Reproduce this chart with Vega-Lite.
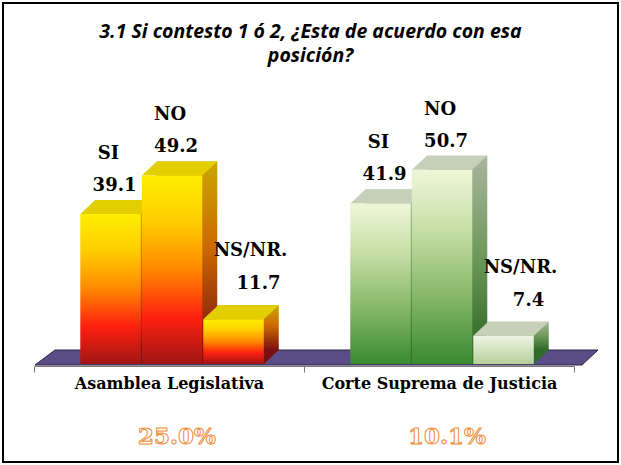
{
  "$schema": "https://vega.github.io/schema/vega-lite/v6.json",
  "width": 615,
  "height": 459,
  "padding": 3,
  "autosize": {"type": "none"},
  "background": "white",
  "config": {"view": {"stroke": "black", "strokeWidth": 2}},
  "title": {
    "text": ["3.1 Si contesto 1 ó 2, ¿Esta de acuerdo con esa", "posición?"],
    "font": "Open Sans", "fontSize": 19.5, "fontStyle": "italic", "fontWeight": "bold",
    "color": "black", "anchor": "middle", "baseline": "top", "offset": -63, "lineHeight": 24
  },
  "datasets": {
    "bars": [
      {"group": "Asamblea Legislativa", "answer": "SI", "value": 39.1},
      {"group": "Asamblea Legislativa", "answer": "NO", "value": 49.2},
      {"group": "Asamblea Legislativa", "answer": "NS/NR.", "value": 11.7},
      {"group": "Corte Suprema de Justicia", "answer": "SI", "value": 41.9},
      {"group": "Corte Suprema de Justicia", "answer": "NO", "value": 50.7},
      {"group": "Corte Suprema de Justicia", "answer": "NS/NR.", "value": 7.4}
    ],
    "pct": [
      {"group": "Asamblea Legislativa", "pct": 0.25},
      {"group": "Corte Suprema de Justicia", "pct": 0.101}
    ]
  },
  "data": {"name": "bars"},
  "resolve": {"scale": {"xOffset": "independent"}},
  "encoding": {
    "x": {
      "field": "group", "type": "nominal", "sort": null,
      "scale": {"range": [31, 571], "paddingInner": 0, "paddingOuter": 0},
      "axis": {
        "orient": "bottom", "offset": -96, "title": null, "labelAngle": 0,
        "labelFont": "DejaVu Serif", "labelFontWeight": "bold", "labelFontSize": 16,
        "labelColor": "black", "labelPadding": 3, "labelLimit": 400,
        "tickBand": "extent", "tickSize": 6, "tickColor": "#777",
        "domainColor": "#777", "domainWidth": 1, "grid": false
      }
    },
    "y": {
      "field": "value", "type": "quantitative",
      "scale": {"domain": [0, 60], "range": [361, 131]},
      "axis": null
    }
  },
  "layer": [
    {
      "transform": [{"filter": "datum.group === 'Asamblea Legislativa' && datum.answer === 'SI'"}],
      "mark": {"type": "point", "shape": "M-134,1L-114,-14L429,-14L413,1Z", "size": 4, "filled": true, "fill": "#5b4d88", "stroke": "#2b2540", "strokeWidth": 1, "opacity": 1},
      "encoding": {
        "y": {"datum": 0, "type": "quantitative"}
      }
    },
    {
      "encoding": {"xOffset": {"field": "answer", "type": "nominal", "sort": ["SI", "NO", "NS/NR."], "scale": {"range": [15, 285], "paddingInner": 0.0163, "paddingOuter": 0.7035, "align": 0.535}}},
      "layer": [
        {
          "transform": [{"filter": "datum.group === 'Asamblea Legislativa'"}],
          "mark": {"type": "bar", "yOffset": -14, "y2Offset": -14,
            "color": {"gradient": "linear", "x1": 0, "y1": 0, "x2": 0, "y2": 1,
              "stops": [{"offset": 0, "color": "#c9a800"}, {"offset": 0.45, "color": "#cc6a00"}, {"offset": 1, "color": "#7a1010"}]}}
        },
        {
          "transform": [{"filter": "datum.group === 'Corte Suprema de Justicia'"}],
          "mark": {"type": "bar", "yOffset": -14, "y2Offset": -14,
            "color": {"gradient": "linear", "x1": 0, "y1": 0, "x2": 0, "y2": 1,
              "stops": [{"offset": 0, "color": "#aab59c"}, {"offset": 0.5, "color": "#6f9a5c"}, {"offset": 1, "color": "#2f6a28"}]}}
        }
      ]
    },
    {
      "encoding": {"xOffset": {"field": "answer", "type": "nominal", "sort": ["SI", "NO", "NS/NR."], "scale": {"paddingInner": 0.0163, "paddingOuter": 0.7035, "align": 0.535}}},
      "layer": [
        {
          "mark": {"type": "point", "shape": "M30,-14.5L45.5,-14.5L30,0.5Z", "size": 4, "filled": true, "opacity": 1},
          "encoding": {
            "y": {"datum": 0, "type": "quantitative"},
            "color": {"field": "group", "type": "nominal", "scale": {"domain": ["Asamblea Legislativa", "Corte Suprema de Justicia"], "range": ["#7a1010", "#2f6a28"]}, "legend": null}
          }
        },
        {
          "mark": {"type": "point", "shape": "M-30.25,0L30.25,0L45.25,-14L-15.25,-14Z", "size": 4, "filled": true, "opacity": 1},
          "encoding": {
            "fill": {"field": "group", "type": "nominal", "scale": {"domain": ["Asamblea Legislativa", "Corte Suprema de Justicia"], "range": ["#e3cf00", "#c6cfb8"]}, "legend": null}
          }
        },
        {
          "transform": [{"filter": "datum.group === 'Asamblea Legislativa'"}],
          "mark": {"type": "bar",
            "color": {"gradient": "linear", "x1": 0, "y1": 0, "x2": 0, "y2": 1,
              "stops": [{"offset": 0, "color": "#ffee00"}, {"offset": 0.25, "color": "#ffcc00"}, {"offset": 0.5, "color": "#ff8800"}, {"offset": 0.75, "color": "#ff2010"}, {"offset": 1, "color": "#a01515"}]}}
        },
        {
          "transform": [{"filter": "datum.group === 'Corte Suprema de Justicia' && datum.answer !== 'NS/NR.'"}],
          "mark": {"type": "bar",
            "color": {"gradient": "linear", "x1": 0, "y1": 0, "x2": 0, "y2": 1,
              "stops": [{"offset": 0, "color": "#eef6d8"}, {"offset": 0.3, "color": "#c8e0a8"}, {"offset": 0.65, "color": "#86b868"}, {"offset": 1, "color": "#388a30"}]}}
        },
        {
          "transform": [{"filter": "datum.group === 'Corte Suprema de Justicia' && datum.answer === 'NS/NR.'"}],
          "mark": {"type": "bar",
            "color": {"gradient": "linear", "x1": 0, "y1": 0, "x2": 0, "y2": 1,
              "stops": [{"offset": 0, "color": "#f0f5e4"}, {"offset": 1, "color": "#b5d09c"}]}}
        },
        {
          "transform": [{"filter": "datum.answer !== 'NS/NR.'"}],
          "mark": {"type": "text", "font": "DejaVu Serif", "fontWeight": "bold", "fontSize": 18, "color": "black", "dy": -60, "dx": -2, "baseline": "middle"},
          "encoding": {"text": {"field": "answer"}}
        },
        {
          "transform": [{"filter": "datum.answer !== 'NS/NR.'"}],
          "mark": {"type": "text", "font": "DejaVu Serif", "fontWeight": "bold", "fontSize": 18, "color": "black", "dy": -28, "dx": 4, "baseline": "middle"},
          "encoding": {"text": {"field": "value", "type": "quantitative", "format": ".1f"}}
        },
        {
          "transform": [{"filter": "datum.answer === 'NS/NR.'"}],
          "mark": {"type": "text", "font": "DejaVu Serif", "fontWeight": "bold", "fontSize": 18, "color": "black", "dy": -68, "dx": 17, "baseline": "middle"},
          "encoding": {"text": {"field": "answer"}}
        },
        {
          "transform": [{"filter": "datum.answer === 'NS/NR.'"}],
          "mark": {"type": "text", "font": "DejaVu Serif", "fontWeight": "bold", "fontSize": 18, "color": "black", "dy": -35, "dx": 25, "baseline": "middle"},
          "encoding": {"text": {"field": "value", "type": "quantitative", "format": ".1f"}}
        }
      ]
    },
    {
      "transform": [
        {"filter": "datum.answer === 'SI'"},
        {"lookup": "group", "from": {"data": {"name": "pct"}, "key": "group", "fields": ["pct"]}}
      ],
      "mark": {"type": "text", "font": "DejaVu Serif", "fontWeight": "bold", "fontSize": 23, "fill": "#ffffff", "fillOpacity": 1, "stroke": "#f08a35", "strokeWidth": 1, "dy": 73, "dx": 8, "baseline": "middle"},
      "encoding": {
        "y": {"datum": 0, "type": "quantitative"},
        "text": {"field": "pct", "type": "quantitative", "format": ".1%"}
      }
    }
  ]
}
